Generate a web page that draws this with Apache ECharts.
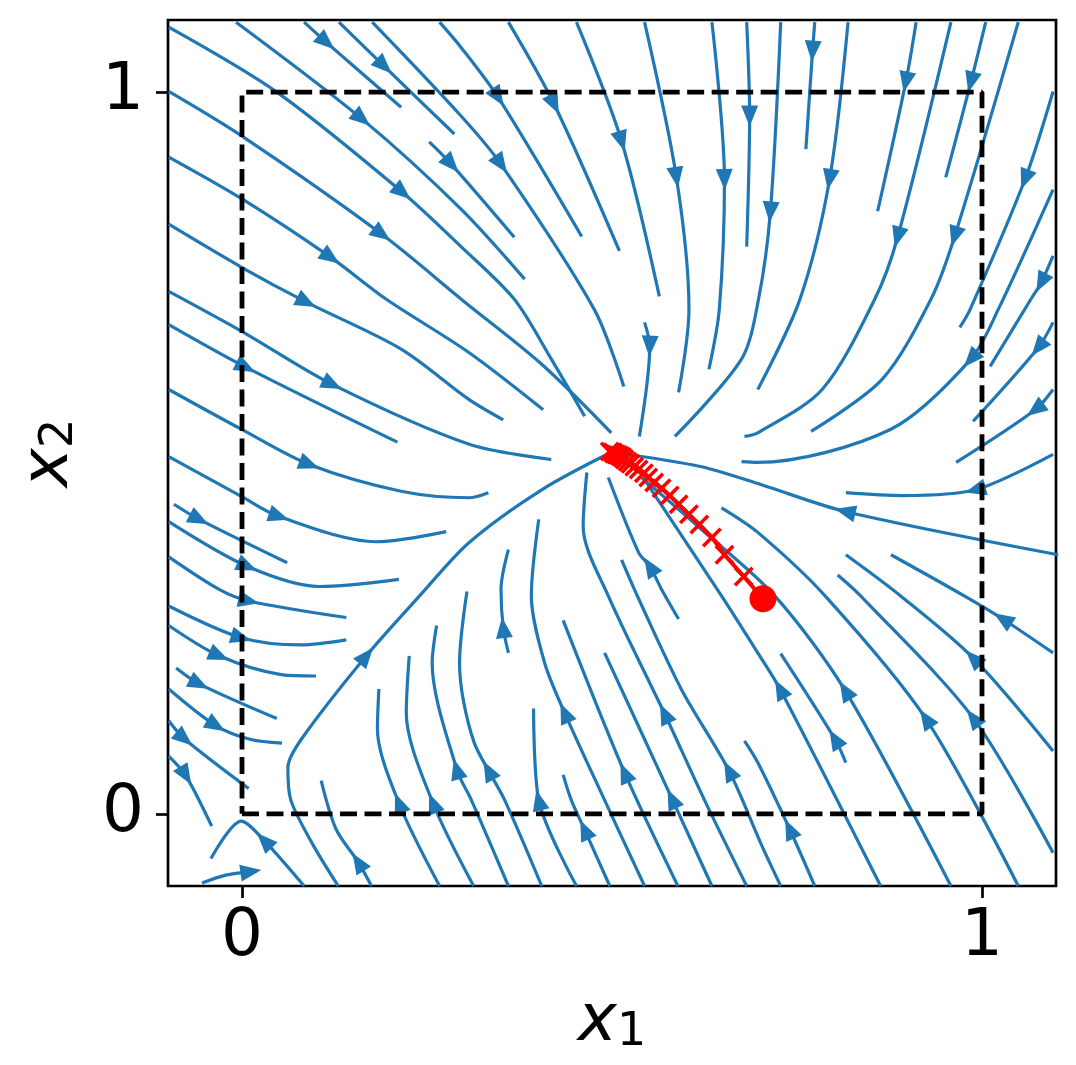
<!DOCTYPE html>
<html><head><meta charset="utf-8">
<script src="https://cdn.jsdelivr.net/npm/echarts@6/dist/echarts.min.js"></script>
<style>html,body{margin:0;padding:0;background:#fff}#c{width:1076px;height:1065px}</style>
</head><body><div id="c"></div>
<script>
// ---- axis ticks ----
const xTicks = [0, 1];
const yTicks = [0, 1];
// ---- dashed unit box ----
const boxCorners = [[0,0],[1,0],[1,1],[0,1],[0,0]];
// ---- red trajectory ----
const trajectory = [[0.704,0.298],[0.678,0.329],[0.652,0.359],[0.635,0.383],[0.618,0.401],[0.604,0.415],[0.590,0.429],[0.578,0.441],[0.567,0.451],[0.557,0.459],[0.549,0.466],[0.543,0.472],[0.536,0.477],[0.530,0.481],[0.525,0.485],[0.521,0.488],[0.517,0.491],[0.514,0.494],[0.512,0.495],[0.509,0.497],[0.506,0.498],[0.503,0.499],[0.501,0.501],[0.497,0.502]];
const trajectoryStart = [[0.704,0.298]];
// ---- streamlines (flow order) ----
const s1 = [[-0.099,1.090],[0.047,1.000],[0.217,0.861],[0.296,0.786],[0.368,0.713],[0.418,0.630],[0.463,0.551]];
const s2 = [[-0.099,1.001],[0,0.939],[0.189,0.803],[0.300,0.710],[0.405,0.623],[0.499,0.528]];
const s3 = [[-0.008,1.097],[0.162,0.963],[0.296,0.838],[0.382,0.741]];
const s4 = [[0.084,1.097],[0.114,1.069],[0.215,0.979]];
const s5 = [[0.131,1.097],[0.192,1.036],[0.287,0.942]];
const s6 = [[0.176,1.097],[0.296,0.967],[0.350,0.900],[0.476,0.699],[0.516,0.592]];
const s7 = [[0.267,1.097],[0.296,1.062],[0.346,0.993],[0.459,0.800]];
const s8 = [[-0.099,0.910],[0,0.852],[0.120,0.771],[0.195,0.713],[0.307,0.639],[0.407,0.560]];
const s9 = [[-0.099,0.817],[0,0.757],[0.087,0.709],[0.215,0.644],[0.307,0.574],[0.353,0.546]];
const s10 = [[-0.099,0.724],[-0.001,0.669],[0.122,0.595],[0.307,0.512],[0.418,0.491]];
const s11 = [[0.253,0.931],[0.283,0.900],[0.368,0.799]];
const s12 = [[-0.099,0.678],[0.005,0.619],[0.210,0.515]];
const s13 = [[-0.099,0.588],[-0.001,0.533],[0.091,0.484],[0.215,0.447],[0.307,0.438],[0.333,0.445]];
const s14 = [[-0.099,0.495],[-0.001,0.440],[0.050,0.412],[0.181,0.377],[0.276,0.391]];
const s15 = [[-0.092,0.429],[-0.058,0.408],[0.061,0.348]];
const s16 = [[-0.099,0.405],[0.007,0.343],[0.104,0.315],[0.212,0.325]];
const s17 = [[-0.099,0.356],[-0.031,0.311],[0.009,0.295],[0.141,0.272]];
const s18 = [[-0.099,0.288],[-0.001,0.244],[0.080,0.234],[0.141,0.241]];
const s19 = [[-0.099,0.261],[-0.031,0.219],[0.053,0.193],[0.100,0.191]];
const s20 = [[-0.089,0.202],[-0.058,0.180],[0.047,0.132]];
const s21 = [[-0.099,0.173],[-0.035,0.122],[0.012,0.103],[0.054,0.098]];
const s22 = [[-0.099,0.129],[-0.078,0.104],[0.009,0.035]];
const s23 = [[-0.099,0.080],[-0.076,0.053],[-0.041,-0.017]];
const s24 = [[0.084,-0.100],[0.030,-0.037],[-0.001,-0.010],[-0.042,-0.062]];
const s25 = [[-0.054,-0.096],[-0.022,-0.085],[0.012,-0.080]];
const s26 = [[0.130,-0.100],[0.096,-0.043],[0.066,0.019],[0.062,0.064],[0.080,0.103],[0.168,0.219],[0.240,0.302],[0.307,0.376],[0.405,0.449],[0.499,0.501]];
const s27 = [[1.103,0.359],[0.815,0.419],[0.702,0.456],[0.621,0.481],[0.499,0.501]];
const s28 = [[0.360,1.097],[0.422,0.983],[0.510,0.780]];
const s29 = [[0.452,1.097],[0.513,0.932],[0.564,0.717]];
const s30 = [[0.544,1.097],[0.587,0.882],[0.604,0.699],[0.590,0.584]];
const s31 = [[0.635,1.097],[0.652,0.879],[0.645,0.699],[0.631,0.616]];
const s32 = [[0.682,1.097],[0.686,0.967],[0.682,0.786]];
const s33 = [[0.544,0.681],[0.551,0.648],[0.537,0.523]];
const s34 = [[0.728,1.097],[0.714,0.834],[0.698,0.713],[0.675,0.630],[0.585,0.523]];
const s35 = [[0.774,1.097],[0.771,1.057],[0.762,0.921]];
const s36 = [[0.819,1.097],[0.794,0.879],[0.754,0.713],[0.697,0.588]];
const s37 = [[0.911,1.097],[0.897,1.014],[0.859,0.835]];
const s38 = [[0.958,1.097],[0.886,0.799],[0.855,0.713],[0.784,0.588],[0.697,0.528],[0.679,0.523]];
const s39 = [[1.005,1.097],[0.985,1.014],[0.951,0.882]];
const s40 = [[1.049,1.097],[0.963,0.800],[0.931,0.713],[0.865,0.602],[0.769,0.530]];
const s41 = [[1.096,1.001],[1.058,0.879],[0.984,0.699],[0.970,0.674]];
const s42 = [[1.096,0.865],[1.022,0.699],[0.985,0.630],[0.877,0.533],[0.697,0.487],[0.675,0.488]];
const s43 = [[1.096,0.773],[1.080,0.736],[1.066,0.713],[1.011,0.620]];
const s44 = [[1.096,0.681],[1.076,0.646],[0.988,0.544]];
const s45 = [[1.096,0.588],[1.072,0.560],[0.965,0.487]];
const s46 = [[1.096,0.498],[0.991,0.449],[0.892,0.441],[0.816,0.445]];
const s47 = [[1.096,0.223],[1.028,0.270],[0.976,0.302],[0.877,0.359]];
const s48 = [[1.096,0.087],[0.988,0.216],[0.890,0.302],[0.816,0.359]];
const s49 = [[1.096,-0.054],[0.988,0.133],[0.836,0.302],[0.805,0.331]];
const s50 = [[1.049,-0.100],[0.924,0.132],[0.788,0.302],[0.697,0.390],[0.648,0.424]];
const s51 = [[0.863,-0.100],[0.727,0.173],[0.697,0.223],[0.648,0.302],[0.544,0.463]];
const s52 = [[0.958,-0.100],[0.815,0.171],[0.720,0.302],[0.621,0.394],[0.540,0.466]];
const s53 = [[0.816,0.071],[0.801,0.104],[0.728,0.222]];
const s54 = [[0.774,-0.100],[0.740,-0.021],[0.697,0.071],[0.679,0.101]];
const s55 = [[0.728,-0.100],[0.702,-0.043],[0.658,0.060],[0.594,0.172],[0.536,0.298],[0.513,0.352]];
const s56 = [[0.590,0.270],[0.567,0.311],[0.551,0.343],[0.536,0.362],[0.495,0.466]];
const s57 = [[0.682,-0.100],[0.625,0.019],[0.571,0.139],[0.495,0.302],[0.461,0.398],[0.466,0.473]];
const s58 = [[0.635,-0.100],[0.581,0.021],[0.490,0.223]];
const s59 = [[0.589,-0.100],[0.517,0.057],[0.434,0.268]];
const s60 = [[0.544,-0.100],[0.490,0.019],[0.436,0.140],[0.409,0.209],[0.391,0.302],[0.401,0.408]];
const s61 = [[0.497,-0.100],[0.463,-0.022],[0.445,0.019],[0.434,0.054]];
const s62 = [[0.452,-0.100],[0.401,0.019],[0.394,0.146]];
const s63 = [[0.405,-0.100],[0.355,0.019],[0.333,0.060],[0.314,0.098],[0.299,0.158],[0.294,0.209],[0.304,0.308]];
const s64 = [[0.360,0.223],[0.353,0.258],[0.350,0.311],[0.360,0.366]];
const s65 = [[0.360,-0.100],[0.310,0.019],[0.290,0.062],[0.257,0.209],[0.263,0.261]];
const s66 = [[0.313,-0.100],[0.258,0.015],[0.222,0.140],[0.226,0.219]];
const s67 = [[0.267,-0.100],[0.212,0.015],[0.183,0.118],[0.185,0.173]];
const s68 = [[0.175,-0.100],[0.157,-0.067],[0.127,-0.021],[0.107,0.046]];
const streamlineList = [s1,s2,s3,s4,s5,s6,s7,s8,s9,s10,s11,s12,s13,s14,s15,s16,s17,s18,s19,s20,s21,s22,s23,s24,s25,s26,s27,s28,s29,s30,s31,s32,s33,s34,s35,s36,s37,s38,s39,s40,s41,s42,s43,s44,s45,s46,s47,s48,s49,s50,s51,s52,s53,s54,s55,s56,s57,s58,s59,s60,s61,s62,s63,s64,s65,s66,s67,s68];
// index of the point carrying the arrow head on each streamline
const arrowAt = [2,2,1,1,1,2,2,2,2,2,1,1,2,2,1,1,2,1,1,1,1,1,1,1,2,5,1,1,1,1,1,1,1,1,1,1,1,1,1,1,1,2,1,1,1,1,1,1,1,1,1,1,1,1,2,2,2,1,1,2,1,1,2,1,2,1,1,1];

const BLUE = '#1f77b4';
const FONT = 'DejaVu Sans';

const arrowData = streamlineList.map((pts, k) => {
  const i = arrowAt[k];
  const a = pts[Math.max(i - 1, 0)], b = pts[Math.min(i + 1, pts.length - 1)], p = pts[i];
  return [p[0], p[1], a[0], a[1], b[0], b[1]];
});

const xMark = 'path://M0,1.5L1.5,0L6,4.5L10.5,0L12,1.5L7.5,6L12,10.5L10.5,12L6,7.5L1.5,12L0,10.5L4.5,6Z';

const series = [];
streamlineList.forEach(pts => {
  series.push({
    type: 'line', data: pts, smooth: 0.3, symbol: 'none', silent: true, z: 2,
    lineStyle: { color: BLUE, width: 3.2, opacity: 1 }
  });
});
series.push({
  type: 'custom', z: 3, silent: true, data: arrowData,
  encode: { x: [0, 2, 4], y: [1, 3, 5] },
  renderItem: function (params, api) {
    const p = api.coord([api.value(0), api.value(1)]);
    const a = api.coord([api.value(2), api.value(3)]);
    const b = api.coord([api.value(4), api.value(5)]);
    let dx = b[0] - a[0], dy = b[1] - a[1];
    const L = Math.hypot(dx, dy) || 1; dx /= L; dy /= L;
    const len = 21, hw = 8.5;
    const tip = [p[0] + dx * len * 0.5, p[1] + dy * len * 0.5];
    const base = [p[0] - dx * len * 0.5, p[1] - dy * len * 0.5];
    return {
      type: 'polygon',
      shape: { points: [tip, [base[0] - dy * hw, base[1] + dx * hw], [base[0] + dy * hw, base[1] - dx * hw]] },
      style: { fill: BLUE }
    };
  }
});
series.push({
  type: 'line', data: boxCorners, symbol: 'none', silent: true, z: 4,
  lineStyle: { color: '#000', width: 4.8, type: [17, 7.5] }
});
series.push({
  type: 'line', data: trajectory, symbol: xMark, symbolSize: 20, showAllSymbol: true, silent: true, z: 5,
  itemStyle: { color: '#ff0000', opacity: 1 }, lineStyle: { color: '#ff0000', width: 4 }
});
series.push({
  type: 'scatter', data: trajectoryStart, symbol: 'circle', symbolSize: 27, silent: true, z: 6,
  itemStyle: { color: '#ff0000', opacity: 1 }
});

const nameRich = {
  i: { fontSize: 66, fontStyle: 'italic', fontFamily: FONT, color: '#000', verticalAlign: 'bottom', lineHeight: 66 },
  s: { fontSize: 46, fontFamily: FONT, color: '#000', verticalAlign: 'bottom', lineHeight: 36 }
};

const chart = echarts.init(document.getElementById('c'), null, { renderer: 'canvas' });
chart.setOption({
  animation: false,
  backgroundColor: '#fff',
  grid: { left: 168, right: 20, top: 20, bottom: 179, show: true, borderColor: '#000', borderWidth: 2.7, backgroundColor: 'transparent' },
  xAxis: {
    type: 'value', min: -0.1, max: 1.1,
    axisLine: { show: false, onZero: false },
    splitLine: { show: false },
    axisTick: { show: true, inside: false, length: 12, lineStyle: { color: '#000', width: 2.7 }, customValues: xTicks },
    axisLabel: { show: true, customValues: xTicks, fontSize: 66, color: '#000', fontFamily: FONT, margin: 19, formatter: v => String(v) },
    name: '{i|x}{s|1}', nameLocation: 'middle', nameGap: 104,
    nameTextStyle: { rich: nameRich }
  },
  yAxis: {
    type: 'value', min: -0.1, max: 1.1,
    axisLine: { show: false, onZero: false },
    splitLine: { show: false },
    axisTick: { show: true, inside: false, length: 12, lineStyle: { color: '#000', width: 2.7 }, customValues: yTicks },
    axisLabel: { show: true, customValues: yTicks, fontSize: 66, color: '#000', fontFamily: FONT, margin: 24, formatter: v => String(v) },
    name: '{i|x}{s|2}', nameLocation: 'middle', nameGap: 85, nameRotate: 90,
    nameTextStyle: { rich: nameRich }
  },
  series: series
});
</script>
</body></html>
